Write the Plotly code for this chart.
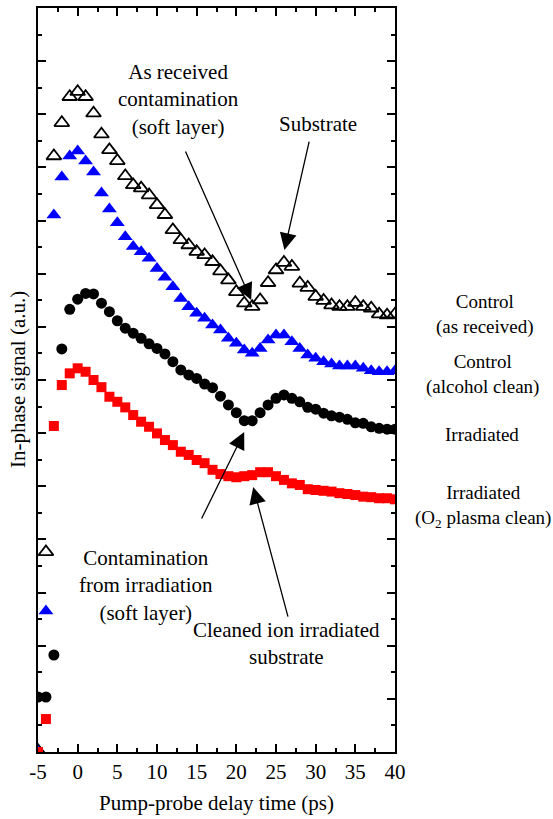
import plotly.graph_objects as go

delay = list(range(-5, 41))

control_received = [0.05, 7.53, 22.43, 23.68, 24.66, 24.85, 24.66, 24.04, 23.25, 22.66,
                    22.25, 21.68, 21.34, 21.22, 20.96, 20.59, 20.22, 19.65, 19.27, 19.08,
                    18.83, 18.71, 18.45, 18.10, 17.76, 17.32, 16.89, 16.76, 17.01, 17.66,
                    18.14, 18.42, 18.27, 17.64, 17.48, 17.14, 16.99, 16.82, 16.76, 16.76,
                    16.91, 16.76, 16.70, 16.48, 16.44, 16.48]

control_alcohol = [0.02, 5.31, 20.21, 21.64, 22.43, 22.62, 22.24, 21.83, 21.04, 20.44,
                   19.92, 19.39, 19.02, 18.83, 18.58, 18.20, 17.87, 17.51, 17.07, 16.76,
                   16.51, 16.32, 16.07, 15.88, 15.57, 15.38, 15.13, 15.01, 15.19, 15.51,
                   15.69, 15.69, 15.44, 15.19, 14.94, 14.82, 14.69, 14.60, 14.53, 14.53,
                   14.53, 14.44, 14.35, 14.31, 14.31, 14.35]

irradiated = [2.07, 2.07, 3.65, 15.17, 16.66, 17.04, 17.26, 17.24, 16.89, 16.57,
              16.23, 15.95, 15.76, 15.57, 15.36, 15.19, 14.98, 14.69, 14.38, 14.19,
              14.06, 13.85, 13.71, 13.39, 13.06, 12.77, 12.47, 12.47, 12.77, 13.06,
              13.31, 13.44, 13.31, 13.18, 12.97, 12.90, 12.75, 12.65, 12.60, 12.52,
              12.39, 12.37, 12.24, 12.18, 12.15, 12.15]

irradiated_o2 = [0.0, 1.24, 12.27, 13.81, 14.25, 14.44, 14.31, 14.00, 13.73, 13.37,
                 13.18, 12.97, 12.68, 12.43, 12.24, 11.99, 11.74, 11.55, 11.30, 11.18,
                 10.99, 10.87, 10.62, 10.46, 10.38, 10.34, 10.38, 10.42, 10.53, 10.53,
                 10.38, 10.24, 10.11, 10.05, 9.89, 9.86, 9.83, 9.80, 9.74, 9.71,
                 9.67, 9.61, 9.59, 9.55, 9.55, 9.51]

x_tickvals = [-5, 0, 5, 10, 15, 20, 25, 30, 35, 40]
x_ticktext = ["-5", "0", "5", "10", "15", "20", "25", "30", "35", "40"]

series_labels = ["Control<br>(as received)", "Control<br>(alcohol clean)",
                 "Irradiated", "Irradiated<br>(O<sub>2</sub> plasma clean)"]

FONT = "Liberation Serif, Times New Roman, DejaVu Serif, serif"
FS = 21
FS_SIDE = 19

fig = go.Figure()
fig.add_trace(go.Scatter(x=delay, y=control_received, mode="markers", cliponaxis=True,
                         marker=dict(symbol="triangle-up-open", size=13, color="black",
                                     line=dict(width=1.8, color="black"))))
fig.add_trace(go.Scatter(x=delay, y=control_alcohol, mode="markers", cliponaxis=True,
                         marker=dict(symbol="triangle-up", size=13, color="#0000FF",
                                     line=dict(width=0))))
fig.add_trace(go.Scatter(x=delay, y=irradiated, mode="markers", cliponaxis=True,
                         marker=dict(symbol="circle", size=11, color="black",
                                     line=dict(width=0))))
fig.add_trace(go.Scatter(x=delay, y=irradiated_o2, mode="markers", cliponaxis=True,
                         marker=dict(symbol="square", size=10, color="#FF0000",
                                     line=dict(width=0))))

# in-plot annotation texts: (text, x, y) in data units
text_labels = [
    ("As received<br>contamination<br>(soft layer)", 12.75, 24.55),
    ("Substrate", 30.3, 23.63),
    ("Contamination<br>from irradiation<br>(soft layer)", 8.6, 6.26),
    ("Cleaned ion irradiated<br>substrate", 26.3, 4.07),
]
for t, xx, yy in text_labels:
    fig.add_annotation(x=xx, y=yy, xref="x", yref="y", text=t, showarrow=False,
                       font=dict(family=FONT, size=FS, color="black"),
                       align="center", xanchor="center", yanchor="middle")

# series labels to the right of the plot (paper coords)
label_pos = [(1.252, 0.588), (1.246, 0.507), (1.244, 0.427), (1.246, 0.330)]
for t, (xx, yy) in zip(series_labels, label_pos):
    fig.add_annotation(x=xx, y=yy, xref="paper", yref="paper", text=t, showarrow=False,
                       font=dict(family=FONT, size=FS_SIDE, color="black"),
                       align="center", xanchor="center", yanchor="middle")

# axis titles
fig.add_annotation(x=0.5, y=-0.069, xref="paper", yref="paper",
                   text="Pump-probe delay time (ps)", showarrow=False,
                   font=dict(family=FONT, size=FS, color="black"),
                   xanchor="center", yanchor="middle")
fig.add_annotation(x=-0.056, y=0.5, xref="paper", yref="paper",
                   text="In-phase signal (a.u.)", showarrow=False, textangle=-90,
                   font=dict(family=FONT, size=FS, color="black"),
                   xanchor="center", yanchor="middle")

# arrows: (tail x, tail y, head x, head y)
arrows = [
    (13.51, 22.66, 21.87, 17.01),
    (29.22, 23.03, 26.06, 18.89),
    (15.53, 8.73, 20.99, 12.04),
    (26.56, 5.04, 22.13, 9.97),
]
for x0, y0, x1, y1 in arrows:
    fig.add_annotation(x=x1, y=y1, ax=x0, ay=y0, xref="x", yref="y", axref="x", ayref="y",
                       text="", showarrow=True, arrowhead=2, arrowsize=2.6,
                       arrowwidth=1.3, arrowcolor="black", standoff=0)

fig.update_layout(
    width=553, height=819,
    margin=dict(l=38, r=158, t=8, b=67, autoexpand=False),
    paper_bgcolor="white", plot_bgcolor="white",
    showlegend=False,
    font=dict(family=FONT, size=FS, color="black"),
    xaxis=dict(range=[-5, 40], tickmode="array", tickvals=x_tickvals, ticktext=x_ticktext,
               ticks="inside", ticklen=8, tickwidth=1.5, tickcolor="black",
               minor=dict(ticks="inside", ticklen=4, tickwidth=1.5, dtick=2.5, tick0=-5,
                          tickcolor="black"),
               showline=True, linewidth=2, linecolor="black", mirror="ticks",
               showgrid=False, zeroline=False, automargin=False,
               tickfont=dict(family=FONT, size=FS, color="black")),
    yaxis=dict(range=[0, 28], tickmode="linear", tick0=0, dtick=2,
               ticks="inside", ticklen=8, tickwidth=1.5, tickcolor="black",
               minor=dict(ticks="inside", ticklen=4, tickwidth=1.5, dtick=1, tick0=0,
                          tickcolor="black"),
               showticklabels=False, automargin=False,
               showline=True, linewidth=2, linecolor="black", mirror="ticks",
               showgrid=False, zeroline=False),
)

fig.write_html("out.html", config={"displayModeBar": False},
               post_script="document.body.style.margin='0px';document.body.style.overflow='hidden';")
